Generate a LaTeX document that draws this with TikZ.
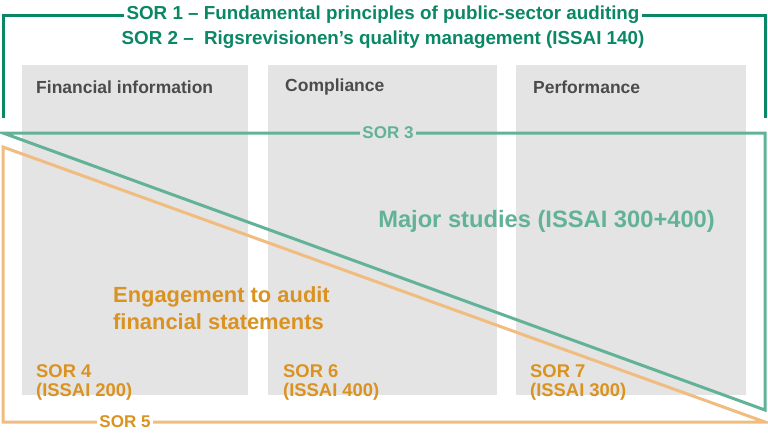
\documentclass[tikz,border=0pt]{standalone}
\usepackage{fontspec}
\setmainfont{Liberation Sans}
\definecolor{dkgreen}{RGB}{10,135,100}
\definecolor{teal3}{RGB}{98,178,152}
\definecolor{orline}{RGB}{240,188,128}
\definecolor{ortext}{RGB}{218,146,32}
\definecolor{boxgray}{RGB}{228,228,228}
\definecolor{labgray}{RGB}{75,75,75}
\tikzset{
  col/.style={fill=boxgray, draw=none},
  collabel/.style={anchor=west, inner sep=0pt, text=labgray, font=\fontsize{17.5}{20}\bfseries},
  sorlabel/.style={anchor=north west, inner sep=0pt, align=left, text=ortext, font=\fontsize{18.4}{19}\bfseries},
  title/.style={inner sep=2pt, text=dkgreen, font=\fontsize{18.8}{22}\bfseries},
  bracket/.style={draw=dkgreen, line width=3pt},
  tealline/.style={draw=teal3, line width=3pt, line join=miter},
  orangeline/.style={draw=orline, line width=3pt, line join=miter},
}
\begin{document}
\begin{tikzpicture}[x=1pt,y=-1pt]
\useasboundingbox (0,0) rectangle (768,432);
% columns
\fill[col] (22,65) rectangle (248,395);
\fill[col] (268,65) rectangle (497,395);
\fill[col] (516,65) rectangle (746,395);
\node[collabel] (c1) at (36,87) {Financial information};
\node[collabel] (c2) at (285,87) {Compliance};
\node[collabel] (c3) at (533,87) {Performance};
% SOR 1/2 bracket
\node[title] (t1) at (383,15) {SOR 1 – Fundamental principles of public-sector auditing};
\node[title] (t2) at (383,40) {SOR 2 –\ \ Rigsrevisionen’s quality management (ISSAI 140)};
\coordinate (bl) at (3,118);
\coordinate (br) at (765,118);
\draw[bracket] (bl) |- (t1.west);
\draw[bracket] (t1.east) -| (br);
% orange triangle
\coordinate (oA) at (3,147);
\coordinate (oB) at (3,422);
\coordinate (oC) at (765,422);
\draw[orangeline] (oA) -- (oB) -- (oC) -- cycle;
\node[fill=white, inner sep=2pt, text=ortext, font=\fontsize{17}{19}\bfseries] (s5) at (125,422) {SOR 5};
% teal triangle
\coordinate (tA) at (3,133);
\coordinate (tB) at (765,133);
\coordinate (tC) at (765,410);
\draw[tealline] (tA) -- (tB) -- (tC) -- cycle;
\node[fill=boxgray, inner sep=2pt, text=teal3, font=\fontsize{17}{19}\bfseries] (s3) at (388,133) {SOR 3};
% big labels
\node[anchor=east, inner sep=0pt, text=teal3, font=\fontsize{23.7}{27}\bfseries] (maj) at (715,221) {Major studies (ISSAI 300+400)};
\node[anchor=north west, inner sep=0pt, align=left, text=ortext, font=\fontsize{21.9}{27}\bfseries] (eng) at (113,286) {Engagement to audit\\financial statements};
% SOR labels
\node[sorlabel] (s4) at (36,364) {SOR 4\\(ISSAI 200)};
\node[sorlabel] (s6) at (283,364) {SOR 6\\(ISSAI 400)};
\node[sorlabel] (s7) at (530,364) {SOR 7\\(ISSAI 300)};
\end{tikzpicture}
\end{document}
